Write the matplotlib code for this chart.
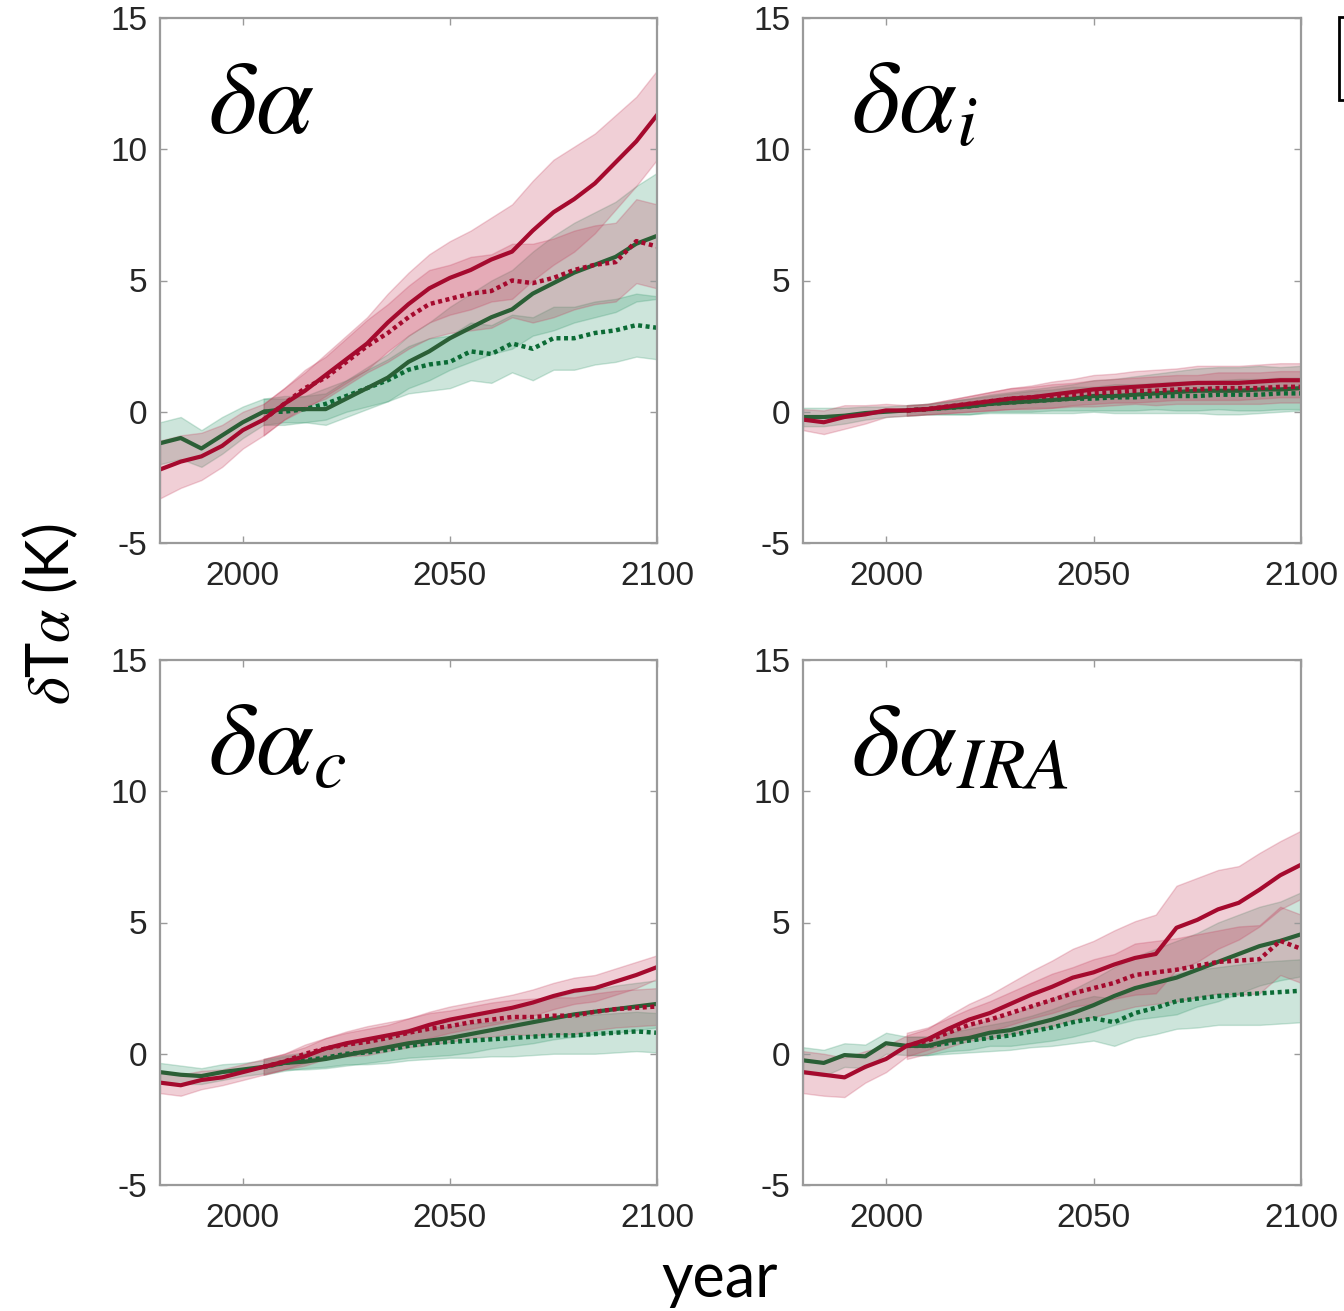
import numpy as np
import matplotlib
matplotlib.use('Agg')
import matplotlib.pyplot as plt
from matplotlib.patches import Rectangle

plt.rcParams['mathtext.fontset'] = 'stix'
plt.rcParams['axes.unicode_minus'] = False

# years (5-yr samples); scenario runs start in 2005
years = np.arange(1980, 2101, 5)
years_fut = years[5:]

# ---- panel a: delta alpha
a_red = [-2.2, -1.9, -1.7, -1.3, -0.7, -0.3, 0.3, 0.8, 1.4, 2.0, 2.6, 3.4, 4.1, 4.7, 5.1,
         5.4, 5.8, 6.1, 6.9, 7.6, 8.1, 8.7, 9.5, 10.3, 11.3]
a_red_sd = [1.1, 1.0, 0.9, 0.8, 0.7, 0.6, 0.6, 0.7, 0.8, 0.9, 1.0, 1.1, 1.2, 1.3, 1.4,
            1.5, 1.6, 1.8, 1.9, 2.0, 2.0, 1.9, 1.8, 1.7, 1.7]
a_red_dot = [-0.3, 0.3, 0.9, 1.3, 1.9, 2.5, 3.0, 3.6, 4.1, 4.3, 4.5, 4.6, 5.0, 4.9, 5.1,
             5.4, 5.6, 5.7, 6.5, 6.3]
a_red_dot_sd = [0.6, 0.6, 0.7, 0.8, 0.9, 1.0, 1.1, 1.2, 1.3, 1.3, 1.4, 1.4, 1.4, 1.5, 1.5,
                1.5, 1.5, 1.5, 1.6, 1.6]
a_grn = [-1.2, -1.0, -1.4, -0.9, -0.4, 0.0, 0.1, 0.1, 0.1, 0.5, 0.9, 1.3, 1.9, 2.3, 2.8,
         3.2, 3.6, 3.9, 4.5, 4.9, 5.3, 5.6, 5.9, 6.4, 6.7]
a_grn_sd = [0.8, 0.8, 0.7, 0.7, 0.6, 0.5, 0.5, 0.5, 0.6, 0.7, 0.8, 0.9, 1.0, 1.1, 1.2,
            1.3, 1.4, 1.5, 1.6, 1.8, 1.9, 2.0, 2.1, 2.2, 2.4]
a_grn_dot = [0.0, 0.0, 0.1, 0.3, 0.6, 0.9, 1.2, 1.6, 1.8, 1.9, 2.3, 2.2, 2.6, 2.4, 2.8,
             2.8, 3.0, 3.1, 3.3, 3.2]
a_grn_dot_sd = [0.5, 0.5, 0.5, 0.6, 0.6, 0.7, 0.8, 0.9, 1.0, 1.0, 1.1, 1.1, 1.1, 1.2, 1.2,
                1.2, 1.2, 1.2, 1.2, 1.2]

# ---- panel b: delta alpha_i
b_red = [-0.3, -0.4, -0.2, -0.1, 0.05, 0.05, 0.1, 0.2, 0.3, 0.4, 0.5, 0.55, 0.65, 0.75, 0.85,
         0.9, 0.95, 1.0, 1.05, 1.1, 1.1, 1.1, 1.15, 1.2, 1.2]
b_red_sd = [0.4, 0.45, 0.45, 0.35, 0.25, 0.2, 0.2, 0.25, 0.3, 0.35, 0.4, 0.45, 0.5, 0.5, 0.55,
            0.55, 0.6, 0.6, 0.6, 0.65, 0.65, 0.65, 0.65, 0.65, 0.65]
b_red_dot = [0.05, 0.1, 0.2, 0.3, 0.4, 0.5, 0.55, 0.6, 0.65, 0.7, 0.75, 0.8, 0.8, 0.85, 0.85,
             0.9, 0.9, 0.9, 0.95, 0.95]
b_red_dot_sd = [0.2, 0.2, 0.25, 0.3, 0.35, 0.4, 0.4, 0.45, 0.45, 0.5, 0.5, 0.5, 0.55, 0.55, 0.55,
                0.6, 0.6, 0.6, 0.6, 0.6]
b_grn = [-0.2, -0.2, -0.15, -0.05, 0.0, 0.05, 0.1, 0.15, 0.2, 0.3, 0.35, 0.4, 0.45, 0.5, 0.6,
         0.6, 0.65, 0.7, 0.75, 0.8, 0.8, 0.8, 0.85, 0.85, 0.9]
b_grn_sd = [0.35, 0.35, 0.3, 0.25, 0.2, 0.2, 0.2, 0.25, 0.3, 0.35, 0.4, 0.45, 0.5, 0.55, 0.6,
            0.65, 0.7, 0.75, 0.8, 0.85, 0.9, 0.9, 0.9, 0.85, 0.85]
b_grn_dot = [0.05, 0.1, 0.15, 0.2, 0.3, 0.35, 0.4, 0.45, 0.5, 0.5, 0.55, 0.55, 0.6, 0.6, 0.6,
             0.65, 0.65, 0.65, 0.7, 0.7]
b_grn_dot_sd = [0.2, 0.2, 0.25, 0.3, 0.3, 0.35, 0.4, 0.4, 0.45, 0.45, 0.5, 0.5, 0.5, 0.55, 0.55,
                0.55, 0.6, 0.6, 0.6, 0.6]

# ---- panel c: delta alpha_c
c_red = [-1.1, -1.2, -1.0, -0.9, -0.7, -0.5, -0.3, -0.1, 0.2, 0.4, 0.55, 0.7, 0.85, 1.1, 1.3,
         1.45, 1.6, 1.75, 1.95, 2.2, 2.4, 2.5, 2.75, 3.0, 3.3]
c_red_sd = [0.4, 0.4, 0.35, 0.3, 0.3, 0.3, 0.3, 0.35, 0.4, 0.45, 0.5, 0.5, 0.5, 0.5, 0.5,
            0.5, 0.5, 0.5, 0.5, 0.5, 0.5, 0.5, 0.5, 0.5, 0.45]
c_red_dot = [-0.5, -0.3, 0.0, 0.2, 0.35, 0.45, 0.6, 0.8, 0.95, 1.05, 1.2, 1.3, 1.4, 1.4, 1.45,
             1.45, 1.6, 1.7, 1.75, 1.8]
c_red_dot_sd = [0.3, 0.3, 0.35, 0.4, 0.45, 0.5, 0.5, 0.55, 0.6, 0.6, 0.6, 0.65, 0.65, 0.7, 0.7,
                0.7, 0.7, 0.7, 0.7, 0.7]
c_grn = [-0.7, -0.8, -0.85, -0.7, -0.6, -0.5, -0.35, -0.3, -0.2, -0.05, 0.1, 0.25, 0.4, 0.5, 0.6,
         0.75, 0.9, 1.05, 1.2, 1.35, 1.5, 1.6, 1.7, 1.8, 1.9]
c_grn_sd = [0.35, 0.35, 0.3, 0.3, 0.25, 0.25, 0.25, 0.3, 0.35, 0.4, 0.45, 0.5, 0.55, 0.6, 0.65,
            0.7, 0.7, 0.75, 0.8, 0.8, 0.85, 0.85, 0.9, 0.9, 0.9]
c_grn_dot = [-0.5, -0.35, -0.25, -0.15, 0.0, 0.05, 0.15, 0.3, 0.4, 0.45, 0.5, 0.55, 0.6, 0.65, 0.7,
             0.7, 0.75, 0.8, 0.85, 0.8]
c_grn_dot_sd = [0.3, 0.3, 0.3, 0.35, 0.4, 0.45, 0.5, 0.55, 0.6, 0.6, 0.65, 0.65, 0.7, 0.7, 0.7,
                0.7, 0.75, 0.75, 0.75, 0.75]

# ---- panel d: delta alpha_IRA
d_red = [-0.7, -0.8, -0.9, -0.5, -0.2, 0.3, 0.55, 0.95, 1.3, 1.55, 1.9, 2.25, 2.55, 2.9, 3.1,
         3.4, 3.65, 3.8, 4.8, 5.1, 5.5, 5.75, 6.25, 6.8, 7.2]
d_red_sd = [0.8, 0.8, 0.75, 0.6, 0.5, 0.4, 0.4, 0.5, 0.6, 0.7, 0.8, 0.9, 1.0, 1.1, 1.2,
            1.3, 1.4, 1.5, 1.6, 1.6, 1.5, 1.4, 1.4, 1.3, 1.3]
d_red_dot = [0.3, 0.5, 0.8, 1.1, 1.3, 1.55, 1.8, 2.05, 2.3, 2.5, 2.7, 3.0, 3.1, 3.2, 3.35,
             3.5, 3.55, 3.6, 4.3, 4.0]
d_red_dot_sd = [0.5, 0.5, 0.55, 0.6, 0.7, 0.8, 0.9, 1.0, 1.0, 1.1, 1.1, 1.2, 1.2, 1.2, 1.2,
                1.2, 1.3, 1.3, 1.3, 1.3]
d_grn = [-0.25, -0.35, -0.05, -0.1, 0.4, 0.3, 0.3, 0.5, 0.6, 0.8, 0.9, 1.1, 1.3, 1.55, 1.85,
         2.2, 2.5, 2.7, 2.9, 3.2, 3.5, 3.8, 4.1, 4.3, 4.55]
d_grn_sd = [0.5, 0.5, 0.45, 0.45, 0.4, 0.35, 0.35, 0.4, 0.45, 0.5, 0.6, 0.7, 0.8, 0.9, 1.0,
            1.1, 1.2, 1.3, 1.4, 1.4, 1.5, 1.5, 1.5, 1.5, 1.6]
d_grn_dot = [0.3, 0.3, 0.4, 0.5, 0.6, 0.7, 0.85, 1.0, 1.2, 1.35, 1.2, 1.55, 1.75, 2.0, 2.1,
             2.2, 2.25, 2.3, 2.35, 2.4]
d_grn_dot_sd = [0.35, 0.35, 0.4, 0.45, 0.5, 0.55, 0.6, 0.7, 0.8, 0.85, 0.9, 0.95, 1.0, 1.05, 1.1,
                1.1, 1.15, 1.2, 1.2, 1.2]

panels = [
    (r'$\delta\alpha$', a_red, a_red_sd, a_red_dot, a_red_dot_sd, a_grn, a_grn_sd, a_grn_dot, a_grn_dot_sd),
    (r'$\delta\alpha_i$', b_red, b_red_sd, b_red_dot, b_red_dot_sd, b_grn, b_grn_sd, b_grn_dot, b_grn_dot_sd),
    (r'$\delta\alpha_c$', c_red, c_red_sd, c_red_dot, c_red_dot_sd, c_grn, c_grn_sd, c_grn_dot, c_grn_dot_sd),
    (r'$\delta\alpha_{IRA}$', d_red, d_red_sd, d_red_dot, d_red_dot_sd, d_grn, d_grn_sd, d_grn_dot, d_grn_dot_sd),
]

RED = '#A50A2E'
RED_FILL = '#C6415E'
GRN = '#2B5F36'
GRN_DOT = '#0B6B35'
GRN_FILL = '#3A9A70'
FRAME = '#9A9A9A'
TXT = '#262626'

W, H = 1344, 1311
fig = plt.figure(figsize=(W / 100, H / 100), dpi=100)

# axes boxes in pixels: left, top, right, bottom
boxes = [(160, 18, 657, 543), (803, 18, 1301, 543),
         (160, 660, 657, 1185), (803, 660, 1301, 1185)]

DOTS = (0, (0.9, 0.8))


def band(ax, x, m, s, col):
    m = np.array(m)
    s = np.array(s)
    ax.fill_between(x, m - s, m + s, facecolor=col, alpha=0.25,
                    edgecolor=col, linewidth=1.0)


for (l, t, r, b), p in zip(boxes, panels):
    name, rs, rss, rd, rds, gs, gss, gd, gds = p
    ax = fig.add_axes([l / W, 1 - b / H, (r - l) / W, (b - t) / H])

    band(ax, years_fut, gd, gds, GRN_FILL)
    band(ax, years, gs, gss, GRN_FILL)
    band(ax, years_fut, rd, rds, RED_FILL)
    band(ax, years, rs, rss, RED_FILL)

    ax.plot(years_fut, gd, linestyle=DOTS, color=GRN_DOT, lw=3.2)
    ax.plot(years, gs, '-', color=GRN, lw=3.0)
    ax.plot(years_fut, rd, linestyle=DOTS, color=RED, lw=3.2)
    ax.plot(years, rs, '-', color=RED, lw=3.0)

    ax.set_xlim(1980, 2100)
    ax.set_ylim(-5, 15)
    ax.set_xticks([2000, 2050, 2100])
    ax.set_yticks([-5, 0, 5, 10, 15])
    ax.tick_params(direction='in', length=5, width=1, color=FRAME,
                   top=True, right=True, labelsize=24, labelcolor=TXT)
    ax.tick_params(axis='x', pad=13)
    ax.tick_params(axis='y', pad=9)
    for lab in ax.get_xticklabels() + ax.get_yticklabels():
        lab.set_fontfamily('Liberation Sans')
    for sp in ax.spines.values():
        sp.set_color(FRAME)
        sp.set_linewidth(1.6)

    ax.text(1991.5, 10.6, name, fontsize=75, color='black', va='baseline')

fig.text(50 / W, 1 - 614 / H, r'$\delta$T$\alpha$ (K)', rotation=90,
         ha='center', va='center', fontsize=43, family='Lato')
fig.text(720 / W, 1 - 1280 / H, 'year', ha='center', va='center',
         fontsize=44, family='Lato')

# cropped legend frame at the right edge
fig.patches.append(Rectangle((1339 / W, 1 - 100 / H), 40 / W, 83 / H,
                             transform=fig.transFigure, facecolor='white',
                             edgecolor='black', linewidth=2))

fig.savefig('out.png', dpi=100)
